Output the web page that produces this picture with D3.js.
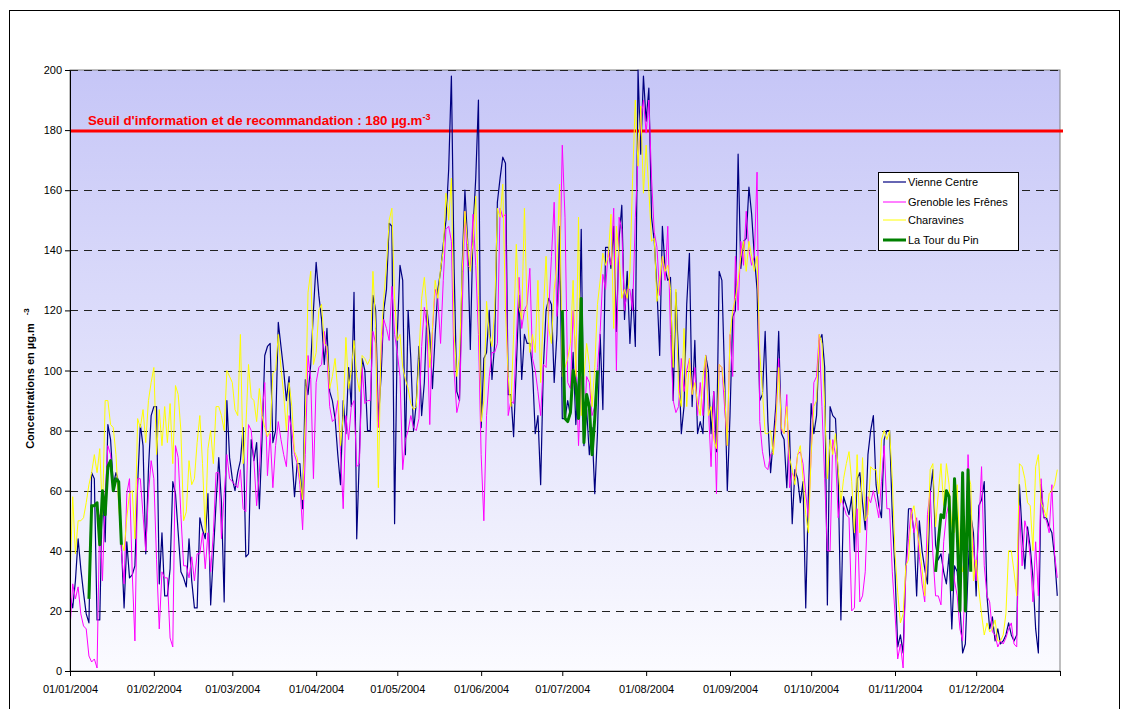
<!DOCTYPE html>
<html>
<head>
<meta charset="utf-8">
<script src="https://cdn.jsdelivr.net/npm/d3@7"></script>
<style>
  body { margin: 0; background: #fff; }
  svg { display: block; font-family: "Liberation Sans", Arial, sans-serif; }
</style>
</head>
<body>
<svg id="chart" width="1131" height="709"></svg>
<script>
// Daily ozone concentrations (µg/m³), 2004, one value per day (366 days)
const vienneCentre = [
  // jan
  25,21,30,44,34,26,19,16,66,64,17,17,60,43,82,77,62,66,63,42,21,43,31,32,35,62,82,75,39,67,85,
  // feb
  88,88,29,46,25,25,34,63,59,46,33,31,28,44,30,21,21,51,47,44,59,22,39,56,71,56,23,90,71,
  // mar
  64,60,66,70,81,38,39,77,70,76,54,77,105,108,109,76,80,116,108,100,90,98,72,58,69,69,54,97,92,102,120,
  // apr
  136,125,117,102,114,93,90,84,72,62,90,79,101,88,126,44,72,104,100,80,80,125,120,83,98,120,127,149,148,49,
  // may
  112,135,130,72,120,104,80,89,108,85,96,120,112,94,112,127,133,142,150,167,198,134,93,90,135,160,143,107,147,164,190,
  // jun
  81,104,106,120,97,109,156,164,171,169,92,92,78,101,125,97,112,109,109,100,79,85,62,101,120,124,122,96,112,148,
  // jul
  84,84,90,85,106,82,98,147,75,87,72,81,59,79,112,87,141,141,134,148,113,144,155,117,133,109,127,108,200,172,198,
  // aug
  183,194,151,143,127,105,148,134,130,131,90,126,104,79,88,122,139,88,110,79,83,79,105,100,79,93,73,133,130,98,60,
  // sep
  85,118,120,172,134,143,144,161,152,138,127,90,92,113,83,66,77,89,113,79,77,61,80,49,67,64,56,63,21,59,
  // oct
  89,79,85,110,112,101,22,88,85,84,64,17,58,55,52,58,40,64,66,56,47,72,80,85,62,55,51,77,80,80,52,
  // nov
  33,8,12,6,34,54,54,46,25,50,40,34,29,59,67,42,37,39,33,29,39,14,35,33,22,6,9,33,52,46,
  // dec
  25,55,57,63,25,14,18,10,14,9,10,12,16,12,10,12,62,46,34,48,41,31,14,6,62,51,51,48,46,38,25
];

const grenobleFrenes = [
  // jan
  14,29,24,28,19,15,14,5,3,4,1,52,30,59,75,72,60,64,61,40,29,59,64,33,10,64,64,52,40,59,70,
  // feb
  64,37,14,33,31,31,11,8,75,71,52,35,35,31,38,30,39,39,46,34,46,33,46,66,66,44,59,72,64,
  // mar
  63,62,61,67,54,53,82,80,70,55,66,85,96,65,79,61,75,83,77,72,68,85,80,72,69,62,47,72,105,97,64,
  // apr
  96,101,102,113,105,88,83,84,90,73,54,85,77,88,90,68,69,101,89,90,90,113,109,81,105,117,114,110,128,112,
  // may
  106,98,67,77,80,85,81,80,84,108,121,114,82,113,127,124,109,130,147,148,143,100,86,90,120,153,135,134,152,135,112,
  // jun
  72,50,85,98,106,106,109,154,151,152,85,90,89,110,131,114,120,122,134,104,100,93,85,102,101,120,138,156,118,130,
  // jul
  175,151,96,94,120,104,75,98,80,98,96,85,88,101,113,132,127,140,135,154,100,151,147,120,127,127,120,151,171,183,190,
  // aug
  179,190,164,146,141,125,138,130,148,112,90,86,88,104,93,100,104,92,101,85,96,85,105,88,68,93,59,102,101,88,75,
  // sep
  112,98,138,120,143,135,153,140,135,138,166,83,73,68,67,72,73,85,104,80,79,92,61,66,64,72,73,69,59,51,
  // oct
  72,96,98,112,88,64,40,40,77,72,51,58,55,52,51,20,21,54,23,25,33,58,56,60,56,51,63,75,54,54,33,
  // nov
  19,4,9,1,33,44,54,46,51,38,29,23,52,60,39,25,25,22,43,52,56,39,30,25,14,10,29,72,52,42,
  // dec
  30,48,68,35,25,23,13,12,8,10,9,11,14,16,9,8,55,35,50,46,38,23,43,25,64,51,50,46,62,39,31
];

const charavines = [
  // jan
  31,58,39,50,50,51,56,62,66,72,66,74,52,90,90,82,81,72,55,43,40,51,59,60,44,84,81,87,76,90,96,
  // feb
  101,72,87,75,88,76,89,69,95,92,80,50,53,70,62,64,76,85,69,46,74,80,69,88,88,85,80,100,98,
  // mar
  96,87,85,112,69,81,102,91,90,83,94,85,81,78,80,99,100,112,101,92,80,96,88,73,71,64,57,85,126,133,102,
  // apr
  106,120,122,109,108,94,98,104,93,75,85,111,94,100,110,98,93,105,104,102,104,133,114,61,110,124,135,150,154,124,
  // may
  110,112,101,97,94,89,87,88,104,124,131,120,101,114,130,124,134,140,159,150,164,112,98,105,133,153,142,133,143,158,125,
  // jun
  83,90,123,112,108,120,154,151,162,120,98,88,112,142,121,117,154,120,106,112,106,130,96,120,138,114,109,127,135,162,
  // jul
  98,101,104,109,130,98,151,85,98,109,102,88,101,122,130,139,135,138,152,114,148,138,124,127,124,133,164,190,168,188,159,
  // aug
  175,160,143,144,123,130,138,133,135,127,101,127,93,88,114,88,104,92,96,89,85,98,105,85,88,77,74,102,101,93,75,
  // sep
  112,120,124,130,138,143,133,143,138,133,138,106,93,79,79,80,72,83,101,81,79,88,71,67,62,72,75,64,52,46,
  // oct
  72,88,90,112,109,88,64,77,72,79,67,56,64,69,73,63,46,72,46,71,50,52,68,67,67,59,77,80,77,80,64,
  // nov
  39,26,16,19,35,37,52,55,48,42,34,25,40,67,69,48,59,69,55,69,62,48,46,62,39,33,40,66,62,30,
  // dec
  37,27,19,12,16,13,14,17,10,10,12,19,40,40,33,25,69,68,64,56,55,40,68,72,56,54,51,59,60,62,67
];

// La Tour du Pin only reported during three periods
const tourDuPinStarts = ["2004-01-08", "2004-07-01", "2004-11-16"];
const tourDuPinValues = [
  [24,55,55,56,42,60,52,68,70,60,64,63,42],
  [120,84,83,86,100,95,84,124,76,92,88,72,84,100],
  [33,43,52,51,60,58,27,64,46,20,66,20,67,33]
];

const seriesNames  = ["Vienne Centre", "Grenoble les Frênes", "Charavines", "La Tour du Pin"];
const seriesColors = ["#000080", "#ff00ff", "#ffff00", "#008000"];
const seriesWidths = [1.2, 1, 1, 3];

const monthTickLabels = ["01/01/2004","01/02/2004","01/03/2004","01/04/2004","01/05/2004","01/06/2004",
                         "01/07/2004","01/08/2004","01/09/2004","01/10/2004","01/11/2004","01/12/2004"];
const yTicks = [0,20,40,60,80,100,120,140,160,180,200];
const thresholdValue = 180;

// ---- layout ----
const svg = d3.select("#chart");
const plotL = 70, plotR = 1060, plotT = 70, plotB = 671;

const dayMs = 86400000;
const yearStart = Date.UTC(2004, 0, 1);
const dayDate = i => new Date(yearStart + i * dayMs);
const parseDay = s => { const [yy, mm, dd] = s.split("-").map(Number); return new Date(Date.UTC(yy, mm - 1, dd)); };

const x = d3.scaleUtc().domain([new Date(yearStart), new Date(Date.UTC(2005, 0, 1))]).range([plotL, plotR]);
const y = d3.scaleLinear().domain([0, 200]).range([plotB, plotT]);

// outer frame
svg.append("rect").attr("x", 9.5).attr("y", 10.5).attr("width", 1110).attr("height", 720)
  .attr("fill", "#fff").attr("stroke", "#000").attr("stroke-width", 1);

// plot area gradient
const defs = svg.append("defs");
const grad = defs.append("linearGradient").attr("id", "plotBg").attr("x1", 0).attr("y1", 0).attr("x2", 0).attr("y2", 1);
grad.append("stop").attr("offset", "0%").attr("stop-color", "#c6c6f7");
grad.append("stop").attr("offset", "100%").attr("stop-color", "#fbfbff");
defs.append("clipPath").attr("id", "plotClip").append("rect")
  .attr("x", plotL).attr("y", plotT - 2).attr("width", plotR - plotL).attr("height", plotB - plotT + 2);

svg.append("rect").attr("x", plotL).attr("y", plotT).attr("width", plotR - plotL).attr("height", plotB - plotT)
  .attr("fill", "url(#plotBg)").attr("stroke", "#808080").attr("stroke-width", 1);

// dashed gridlines
svg.append("g").selectAll("line").data(yTicks.filter(v => v > 0)).join("line")
  .attr("x1", plotL).attr("x2", plotR)
  .attr("y1", d => Math.round(y(d)) + 0.5).attr("y2", d => Math.round(y(d)) + 0.5)
  .attr("stroke", "#222").attr("stroke-width", 1).attr("stroke-dasharray", "8,6");

// threshold line and label
svg.append("line").attr("x1", plotL).attr("x2", plotR + 3)
  .attr("y1", y(thresholdValue) + 1).attr("y2", y(thresholdValue) + 1)
  .attr("stroke", "#ff0000").attr("stroke-width", 3);
const thr = svg.append("text").attr("x", 88).attr("y", y(thresholdValue) - 5)
  .attr("fill", "#ff0000").attr("font-weight", "bold").attr("font-size", 13.3)
  .text("Seuil d'information et de recommandation : 180 µg.m");
thr.append("tspan").attr("dy", -5).attr("font-size", 9).text("-3");

// series
const line = d3.line().defined(d => d.v != null).x(d => x(d.date)).y(d => y(d.v));
const mainSeries = [vienneCentre, grenobleFrenes, charavines];
const gLines = svg.append("g").attr("clip-path", "url(#plotClip)");
mainSeries.forEach((vals, k) => {
  gLines.append("path")
    .datum(vals.map((v, i) => ({ date: dayDate(i), v })))
    .attr("fill", "none").attr("stroke", seriesColors[k]).attr("stroke-width", seriesWidths[k])
    .attr("stroke-linejoin", "round").attr("d", line);
});
tourDuPinValues.forEach((vals, s) => {
  const d0 = parseDay(tourDuPinStarts[s]);
  gLines.append("path")
    .datum(vals.map((v, i) => ({ date: new Date(+d0 + i * dayMs), v })))
    .attr("fill", "none").attr("stroke", seriesColors[3]).attr("stroke-width", seriesWidths[3])
    .attr("stroke-linejoin", "round").attr("d", line);
});

// axes
const monthDates = d3.range(12).map(m => new Date(Date.UTC(2004, m, 1)));
const xAxis = d3.axisBottom(x)
  .tickValues(monthDates.concat([new Date(Date.UTC(2005, 0, 1))]))
  .tickSize(5).tickSizeOuter(0)
  .tickFormat((d, i) => monthTickLabels[i] || "");
const gx = svg.append("g").attr("transform", `translate(0,${plotB})`).call(xAxis);
gx.select(".domain").attr("stroke", "#000");
gx.selectAll(".tick line").attr("stroke", "#000");
gx.selectAll(".tick text").attr("font-size", 11).attr("font-family", "Liberation Sans, Arial, sans-serif")
  .attr("fill", "#000").attr("dy", "1.3em");

const yAxis = d3.axisLeft(y).tickValues(yTicks).tickSize(5).tickSizeOuter(0).tickFormat(d3.format("d"));
const gy = svg.append("g").attr("transform", `translate(${plotL},0)`).call(yAxis);
gy.select(".domain").attr("stroke", "#000");
gy.selectAll(".tick line").attr("stroke", "#000");
gy.selectAll(".tick text").attr("font-size", 11).attr("font-family", "Liberation Sans, Arial, sans-serif")
  .attr("fill", "#000").attr("x", -8);

// y axis title
const yt = svg.append("text")
  .attr("transform", `translate(34,${(plotT + plotB) / 2 + 8}) rotate(-90)`)
  .attr("text-anchor", "middle").attr("font-size", 11).attr("font-weight", "bold")
  .text("Concentrations en µg.m");
yt.append("tspan").attr("dx", 8).attr("dy", -5).attr("font-size", 8).text("-3");

// legend
const lg = svg.append("g").attr("transform", "translate(878,172)");
lg.append("rect").attr("x", 0.5).attr("y", 0.5).attr("width", 140).attr("height", 78)
  .attr("fill", "#fff").attr("stroke", "#000");
const rowY = [10, 30, 48, 68];
seriesNames.forEach((name, k) => {
  lg.append("line").attr("x1", 5).attr("x2", 28).attr("y1", rowY[k]).attr("y2", rowY[k])
    .attr("stroke", seriesColors[k]).attr("stroke-width", seriesWidths[k]);
  lg.append("text").attr("x", 30).attr("y", rowY[k]).attr("dy", "0.35em")
    .attr("font-size", 11).text(name);
});
</script>
</body>
</html>
